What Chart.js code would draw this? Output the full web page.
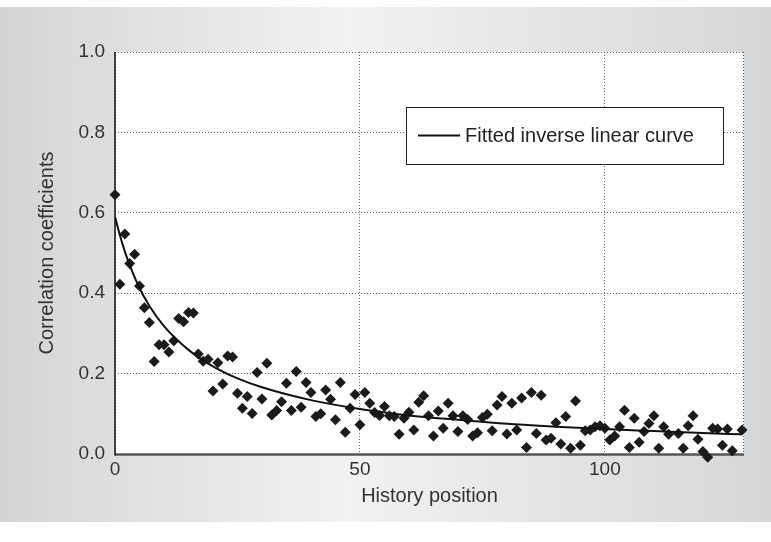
<!DOCTYPE html>
<html>
<head>
<meta charset="utf-8">
<script src="https://cdn.jsdelivr.net/npm/chart.js@4.4.1/dist/chart.umd.min.js"></script>
<style>
  html, body { margin: 0; padding: 0; background: #fff; }
  #wrap { width: 771px; height: 542px; }
</style>
</head>
<body>
<div id="wrap"><canvas id="corrChart" width="771" height="542"></canvas></div>
<script>
'use strict';

// history positions 0..128
const positions = [
    0, 1, 2, 3, 4, 5, 6, 7, 8, 9, 10, 11, 12, 13, 14, 15, 16, 17, 18, 19,
    20, 21, 22, 23, 24, 25, 26, 27, 28, 29, 30, 31, 32, 33, 34, 35, 36, 37, 38, 39,
    40, 41, 42, 43, 44, 45, 46, 47, 48, 49, 50, 51, 52, 53, 54, 55, 56, 57, 58, 59,
    60, 61, 62, 63, 64, 65, 66, 67, 68, 69, 70, 71, 72, 73, 74, 75, 76, 77, 78, 79,
    80, 81, 82, 83, 84, 85, 86, 87, 88, 89, 90, 91, 92, 93, 94, 95, 96, 97, 98, 99,
    100, 101, 102, 103, 104, 105, 106, 107, 108, 109, 110, 111, 112, 113, 114, 115, 116, 117, 118, 119,
    120, 121, 122, 123, 124, 125, 126, 127, 128
];

const coefficients = [
    0.645, 0.422, 0.547, 0.474, 0.497, 0.418, 0.364, 0.327, 0.230, 0.272,
    0.272, 0.254, 0.282, 0.337, 0.329, 0.352, 0.351, 0.249, 0.231, 0.236,
    0.157, 0.227, 0.174, 0.244, 0.241, 0.151, 0.114, 0.143, 0.101, 0.203,
    0.137, 0.226, 0.097, 0.108, 0.130, 0.176, 0.108, 0.205, 0.116, 0.178,
    0.153, 0.093, 0.100, 0.159, 0.136, 0.085, 0.178, 0.054, 0.114, 0.148,
    0.073, 0.153, 0.126, 0.103, 0.096, 0.118, 0.095, 0.093, 0.049, 0.089,
    0.104, 0.060, 0.129, 0.145, 0.095, 0.045, 0.107, 0.064, 0.126, 0.095,
    0.056, 0.095, 0.086, 0.045, 0.053, 0.091, 0.099, 0.058, 0.122, 0.143,
    0.050, 0.126, 0.060, 0.139, 0.016, 0.153, 0.051, 0.146, 0.035, 0.039,
    0.078, 0.025, 0.093, 0.014, 0.132, 0.022, 0.058, 0.060, 0.068, 0.070,
    0.064, 0.035, 0.045, 0.068, 0.109, 0.016, 0.089, 0.029, 0.056, 0.076,
    0.095, 0.014, 0.068, 0.049, -0.021, 0.051, 0.014, 0.070, 0.095, 0.037,
    0.006, -0.008, 0.064, 0.062, 0.022, 0.062, 0.008, -0.017, 0.060
];

// fitted curve
const curveX = [0, 1, 2, 3, 5, 7, 10, 15, 20, 25, 30, 40, 50, 60, 70, 80, 90, 100, 110, 120, 128];
const curveY = [0.590, 0.544, 0.504, 0.470, 0.413, 0.369, 0.318, 0.259, 0.218, 0.188, 0.166,
                0.134, 0.112, 0.096, 0.085, 0.075, 0.068, 0.062, 0.057, 0.052, 0.049];

const xTicks = [0, 50, 100];
const yTicks = [0, 0.2, 0.4, 0.6, 0.8, 1.0];
const curveLabel = 'Fitted inverse linear curve';

const FONT = "'Liberation Sans', Arial, sans-serif";

const backdrop = {
    id: 'backdrop',
    beforeDraw(chart) {
        const { ctx, chartArea: a } = chart;
        ctx.save();
        ctx.fillStyle = '#ffffff';
        ctx.fillRect(0, 0, chart.width, chart.height);
        const g = ctx.createLinearGradient(0, 0, chart.width, 0);
        g.addColorStop(0, '#d3d4d6');
        g.addColorStop(0.45, '#f2f2f3');
        g.addColorStop(1, '#d5d6d8');
        ctx.fillStyle = g;
        ctx.fillRect(0, 7, chart.width, 515);
        ctx.fillStyle = '#ffffff';
        ctx.fillRect(a.left, a.top, a.right - a.left, a.bottom - a.top);
        ctx.restore();
    },
    beforeDatasetsDraw(chart) {
        const { ctx, chartArea: a } = chart;
        ctx.save();
        // right edge dotted
        ctx.strokeStyle = '#555';
        ctx.lineWidth = 1;
        ctx.setLineDash([1, 2]);
        ctx.beginPath();
        ctx.moveTo(a.right - 0.5, a.top);
        ctx.lineTo(a.right - 0.5, a.bottom);
        ctx.stroke();
        ctx.setLineDash([]);
        // bottom axis
        ctx.strokeStyle = '#555';
        ctx.lineWidth = 2.5;
        ctx.beginPath();
        ctx.moveTo(a.left, a.bottom + 0.5);
        ctx.lineTo(a.right, a.bottom + 0.5);
        ctx.stroke();
        // left axis
        ctx.strokeStyle = '#111';
        ctx.lineWidth = 1.5;
        ctx.beginPath();
        ctx.moveTo(a.left, a.top);
        ctx.lineTo(a.left, a.bottom + 1.5);
        ctx.stroke();
        ctx.restore();
    },
    afterDraw(chart) {
        const { ctx } = chart;
        const x = 406, y = 107, w = 317, h = 57;
        ctx.save();
        ctx.fillStyle = '#fff';
        ctx.fillRect(x, y, w, h);
        ctx.strokeStyle = '#222';
        ctx.lineWidth = 1;
        ctx.strokeRect(x + 0.5, y + 0.5, w, h);
        ctx.strokeStyle = '#111';
        ctx.lineWidth = 2;
        ctx.beginPath();
        ctx.moveTo(418, y + h / 2);
        ctx.lineTo(460, y + h / 2);
        ctx.stroke();
        ctx.fillStyle = '#222';
        ctx.font = '20px ' + FONT;
        ctx.textBaseline = 'middle';
        ctx.fillText(chart.data.datasets[1].label, 465, y + h / 2 + 1);
        ctx.restore();
    }
};

const ctx = document.getElementById('corrChart').getContext('2d');
new Chart(ctx, {
    data: {
        datasets: [{
            type: 'scatter',
            label: 'Correlation coefficients',
            data: positions.map((p, i) => ({ x: p, y: coefficients[i] })),
            pointStyle: 'rectRot',
            pointRadius: 5.5,
            pointBackgroundColor: '#1b1b1b',
            pointBorderWidth: 0,
            clip: false,
            order: 1
        }, {
            type: 'line',
            label: curveLabel,
            data: curveX.map((p, i) => ({ x: p, y: curveY[i] })),
            borderColor: '#111',
            borderWidth: 2,
            pointRadius: 0,
            fill: false,
            cubicInterpolationMode: 'monotone',
            order: 0
        }]
    },
    options: {
        responsive: false,
        animation: false,
        layout: { padding: { top: 52, right: 27, bottom: 30, left: 35 } },
        plugins: {
            legend: { display: false },
            tooltip: { enabled: false }
        },
        scales: {
            x: {
                type: 'linear',
                min: 0,
                max: 128.4,
                afterFit: s => { s.height = 58; },
                afterBuildTicks: s => { s.ticks = xTicks.map(v => ({ value: v })); },
                ticks: { color: '#333', font: { family: FONT, size: 19 }, padding: 4 },
                grid: { color: '#666', lineWidth: 1, drawTicks: false },
                border: { display: false, dash: [1, 2] },
                title: { display: true, text: 'History position', color: '#333', font: { family: FONT, size: 20 }, padding: { top: 0, bottom: 4 } }
            },
            y: {
                min: 0,
                max: 1,
                afterFit: s => { s.width = 80; },
                afterBuildTicks: s => { s.ticks = yTicks.map(v => ({ value: v })); },
                ticks: { color: '#333', font: { family: FONT, size: 19 }, padding: 10, callback: v => v.toFixed(1) },
                grid: { color: '#666', lineWidth: 1, drawTicks: false },
                border: { display: false, dash: [1, 2] },
                title: { display: true, text: 'Correlation coefficients', color: '#333', font: { family: FONT, size: 20 }, padding: { top: 0, bottom: 0 } }
            }
        }
    },
    plugins: [backdrop]
});
</script>
</body>
</html>
